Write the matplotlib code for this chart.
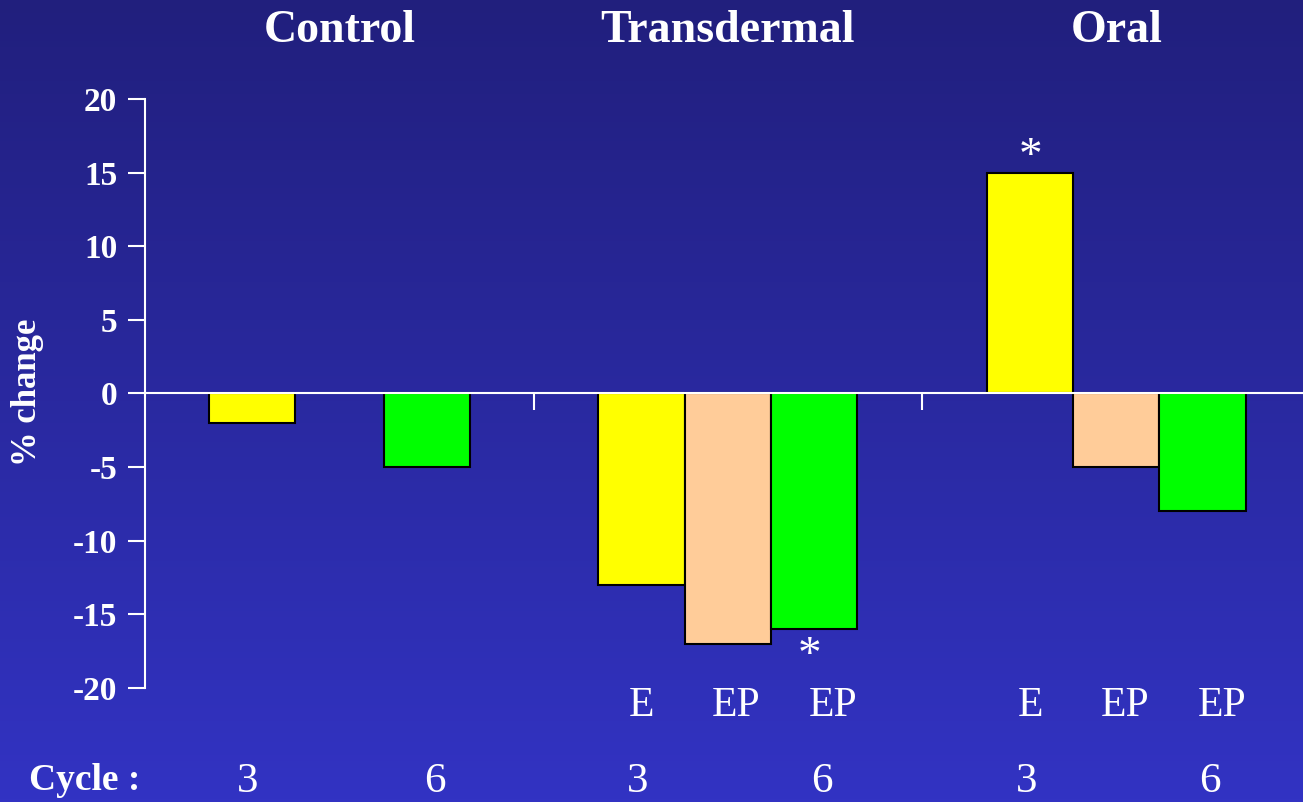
import matplotlib.pyplot as plt
import matplotlib.transforms as mtransforms
import numpy as np

# groups and bars (values in % change)
groups = ["Control", "Transdermal", "Oral"]
bar_group = [0, 0, 1, 1, 1, 2, 2, 2]
bar_slot = [-1, 1, -1, 0, 1, -1, 0, 1]
bar_values = [-2, -5, -13, -17, -16, 15, -5, -8]
bar_colors = ["#ffff00", "#00ff00", "#ffff00", "#ffcc99", "#00ff00",
              "#ffff00", "#ffcc99", "#00ff00"]
treat_labels = ["", "", "E", "EP", "EP", "E", "EP", "EP"]
cycle_labels = ["3", "6", "3", "", "6", "3", "", "6"]
star_bars = [4, 5]

yticks = [20, 15, 10, 5, 0, -5, -10, -15, -20]

W, H = 1303, 802
serif = "Liberation Serif"

fig = plt.figure(figsize=(W / 100, H / 100), dpi=100)

# background gradient
bg = fig.add_axes([0, 0, 1, 1], zorder=-10)
grad = np.linspace(0, 1, 256).reshape(-1, 1)
top = np.array([33, 31, 125]) / 255
bot = np.array([50, 51, 195]) / 255
img = top + (bot - top) * grad[:, :, None]
bg.imshow(img, aspect="auto", extent=[0, 1, 0, 1])
bg.axis("off")

ax = fig.add_axes([145 / W, 1 - 688 / H, 1 - 145 / W, 589 / H])
ax.patch.set_alpha(0)

width = 0.222
xs = []
for g, s in zip(bar_group, bar_slot):
    xs.append(g + 0.5 + s * (0.222 if g > 0 else 0.225))

ax.bar(xs, bar_values, width=width, color=bar_colors,
       edgecolor="black", linewidth=1.5, zorder=1)

ax.set_xlim(0, (W - 145) / 388.5)
ax.set_ylim(-20, 20)

for sp in ["top", "right"]:
    ax.spines[sp].set_visible(False)
ax.spines["left"].set_color("white")
ax.spines["left"].set_linewidth(1.5)
ax.spines["bottom"].set_position(("data", 0))
ax.spines["bottom"].set_color("white")
ax.spines["bottom"].set_linewidth(1.5)
ax.spines["bottom"].set_zorder(3)

ax.set_yticks(yticks)
ax.set_yticklabels([str(t) for t in yticks])
ax.set_xticks([1, 2])
ax.set_xticklabels([])
ax.tick_params(axis="y", colors="white", length=12, width=1.5, pad=8,
               labelsize=24)
ax.tick_params(axis="x", colors="white", length=12, width=1.5,
               direction="out")
for lab in ax.get_yticklabels():
    lab.set_fontfamily(serif)
    lab.set_fontweight("bold")

blend = mtransforms.blended_transform_factory(ax.transData, fig.transFigure)

# group titles
for i, name in enumerate(groups):
    ax.text(i + 0.5, 1 - 42 / H, name, transform=blend, ha="center",
            va="baseline", color="white", fontsize=33, fontweight="bold",
            fontfamily=serif)

# treatment labels sit a little right of the bar centres
label_dx = {-1: 0.0, 0: 0.022, 1: 0.05}
for x, s, t in zip(xs, bar_slot, treat_labels):
    if t:
        ax.text(x + label_dx[s], 1 - 706 / H, t, transform=blend,
                ha="center", va="center", color="white", fontsize=30,
                fontfamily=serif)

cycle_dx = {-1: -0.01, 1: 0.02}
for x, s, c in zip(xs, bar_slot, cycle_labels):
    if c:
        ax.text(x + cycle_dx[s], 1 - 782 / H, c, transform=blend,
                ha="center", va="center", color="white", fontsize=31,
                fontfamily=serif)

fig.text(85 / W, 1 - 781 / H, "Cycle :", ha="center", va="center",
         color="white", fontsize=27, fontweight="bold", fontfamily=serif)

fig.text(28 / W, 1 - 392 / H, "% change", ha="center", va="center",
         rotation=90, color="white", fontsize=25, fontweight="bold",
         fontfamily=serif)

# significance stars
for b in star_bars:
    v = bar_values[b]
    ax.annotate("*", (xs[b], v), xytext=(-3 if v < 0 else 0, 11 if v > 0 else -20),
                textcoords="offset points", ha="center", va="center",
                color="white", fontsize=34, fontfamily=serif)

fig.savefig("out.png", dpi=100)
